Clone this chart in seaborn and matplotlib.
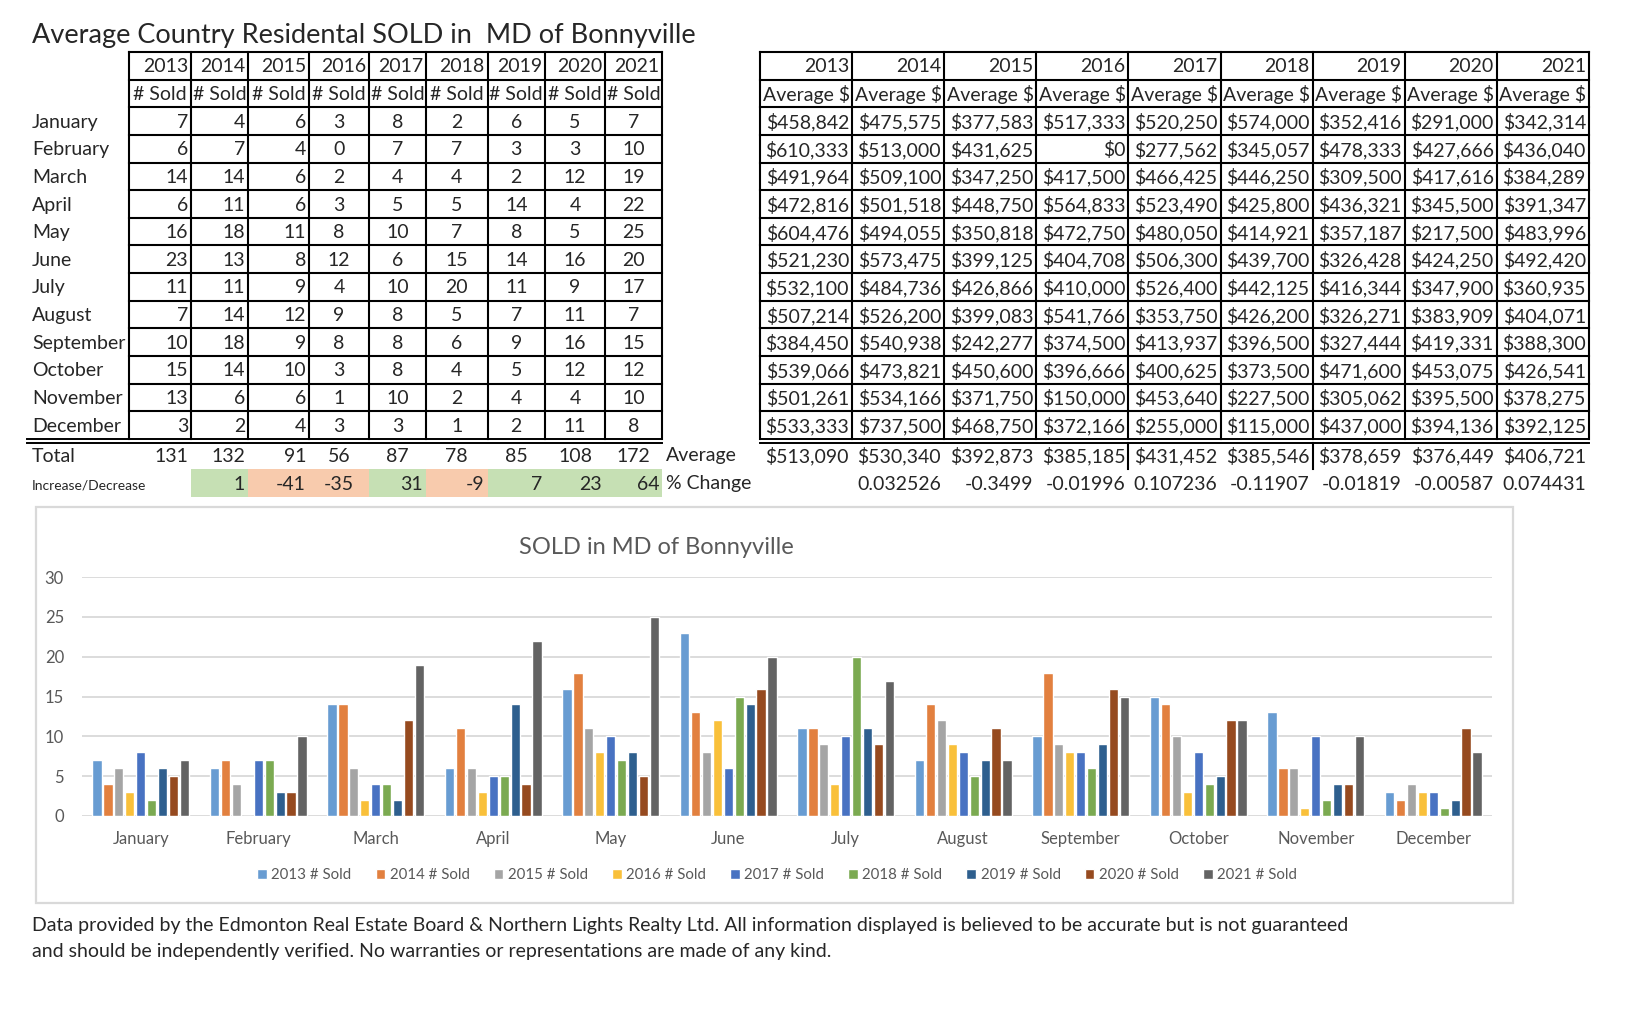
"""
Country residential sales sheet for the MD of Bonnyville:
two summary tables (units sold, average price) and a grouped bar chart.
"""

import matplotlib.pyplot as plt
import numpy as np
import pandas as pd
import seaborn as sns
from matplotlib.patches import Rectangle


months = ["January", "February", "March", "April", "May", "June", "July",
          "August", "September", "October", "November", "December"]
years = [2013, 2014, 2015, 2016, 2017, 2018, 2019, 2020, 2021]

sold_2013 = [7, 6, 14, 6, 16, 23, 11, 7, 10, 15, 13, 3]
sold_2014 = [4, 7, 14, 11, 18, 13, 11, 14, 18, 14, 6, 2]
sold_2015 = [6, 4, 6, 6, 11, 8, 9, 12, 9, 10, 6, 4]
sold_2016 = [3, 0, 2, 3, 8, 12, 4, 9, 8, 3, 1, 3]
sold_2017 = [8, 7, 4, 5, 10, 6, 10, 8, 8, 8, 10, 3]
sold_2018 = [2, 7, 4, 5, 7, 15, 20, 5, 6, 4, 2, 1]
sold_2019 = [6, 3, 2, 14, 8, 14, 11, 7, 9, 5, 4, 2]
sold_2020 = [5, 3, 12, 4, 5, 16, 9, 11, 16, 12, 4, 11]
sold_2021 = [7, 10, 19, 22, 25, 20, 17, 7, 15, 12, 10, 8]

avg_2013 = [458842, 610333, 491964, 472816, 604476, 521230, 532100, 507214, 384450, 539066, 501261, 533333]
avg_2014 = [475575, 513000, 509100, 501518, 494055, 573475, 484736, 526200, 540938, 473821, 534166, 737500]
avg_2015 = [377583, 431625, 347250, 448750, 350818, 399125, 426866, 399083, 242277, 450600, 371750, 468750]
avg_2016 = [517333, 0, 417500, 564833, 472750, 404708, 410000, 541766, 374500, 396666, 150000, 372166]
avg_2017 = [520250, 277562, 466425, 523490, 480050, 506300, 526400, 353750, 413937, 400625, 453640, 255000]
avg_2018 = [574000, 345057, 446250, 425800, 414921, 439700, 442125, 426200, 396500, 373500, 227500, 115000]
avg_2019 = [352416, 478333, 309500, 436321, 357187, 326428, 416344, 326271, 327444, 471600, 305062, 437000]
avg_2020 = [291000, 427666, 417616, 345500, 217500, 424250, 347900, 383909, 419331, 453075, 395500, 394136]
avg_2021 = [342314, 436040, 384289, 391347, 483996, 492420, 360935, 404071, 388300, 426541, 378275, 392125]

avg_total = [513090, 530340, 392873, 385185, 431452, 385546, 378659, 376449, 406721]
pct_change = [0.032526, -0.3499, -0.01996, 0.107236, -0.11907, -0.01819, -0.00587, 0.074431]

series_colors = ["#689CD2", "#E2803F", "#A5A5A5", "#F9C03A", "#4872C2",
                 "#7BAA51", "#2E5F8E", "#964A1F", "#636363"]

title = "Average Country Residental SOLD in  MD of Bonnyville"
chart_title = "SOLD in MD of Bonnyville"
footer = [
    "Data provided by the Edmonton Real Estate Board & Northern Lights Realty Ltd. "
    "All information displayed is believed to be accurate but is not guaranteed",
    "and should be independently verified. No warranties or representations are made of any kind.",
]

sold_cols = [sold_2013, sold_2014, sold_2015, sold_2016, sold_2017,
             sold_2018, sold_2019, sold_2020, sold_2021]
avg_cols = [avg_2013, avg_2014, avg_2015, avg_2016, avg_2017,
            avg_2018, avg_2019, avg_2020, avg_2021]
totals = [int(np.sum(c)) for c in sold_cols]
changes = np.diff(totals)

sns.set_style("white")
plt.rcParams["font.family"] = ["Lato", "DejaVu Sans"]

W, H = 1626, 1034
fig = plt.figure(figsize=(W / 100, H / 100), dpi=100)
canvas = fig.add_axes([0, 0, 1, 1])
canvas.set_xlim(0, W)
canvas.set_ylim(H, 0)
canvas.axis("off")

FS = 14
TOP = 52
ROW = 27.64
BOTTOM = TOP + 14 * ROW
left_x = [129, 191, 248, 309, 369, 426, 487.5, 545, 605, 662]
right_x = [760 + k * 92.1 for k in range(10)]


def line(xs, ys, lw=1.5):
    canvas.plot(xs, ys, color="black", lw=lw, solid_capstyle="projecting")


def put(x, y, s, ha="right", size=FS, **kw):
    canvas.text(x, y + 1, s, ha=ha, va="center", fontsize=size, **kw)


def row_mid(i):
    return TOP + (i + 0.5) * ROW


def draw_grid(xs):
    for i in range(14):
        line([xs[0], xs[-1]], [TOP + i * ROW] * 2)
    for x in xs:
        line([x, x], [TOP, BOTTOM])


canvas.text(32, 36, title, ha="left", va="center", fontsize=19.5)

# left table: units sold
draw_grid(left_x)
line([27, left_x[-1]], [BOTTOM, BOTTOM], lw=1.4)
line([27, left_x[-1]], [BOTTOM + 3.6, BOTTOM + 3.6], lw=1.4)
for j, yr in enumerate(years):
    x0, x1 = left_x[j], left_x[j + 1]
    put(x1 - 3, row_mid(0), str(yr))
    put((x0 + x1) / 2, row_mid(1), "# Sold", ha="center")
    for i, v in enumerate(sold_cols[j]):
        if j < 3:
            put(x1 - 3, row_mid(i + 2), str(v))
        else:
            put((x0 + x1) / 2, row_mid(i + 2), str(v), ha="center")
for i, m in enumerate(months):
    put(32, row_mid(i + 2), m, ha="left")

total_y = 455
change_y = 483
put(32, total_y, "Total", ha="left")
for j, t in enumerate(totals):
    x0, x1 = left_x[j], left_x[j + 1]
    if j < 3:
        put(x1 - 3, total_y, str(t))
    else:
        put((x0 + x1) / 2, total_y, str(t), ha="center")

put(32, change_y + 1, "Increase/Decrease", ha="left", size=10)
for j, c in enumerate(changes):
    x0, x1 = left_x[j + 1], left_x[j + 2]
    canvas.add_patch(Rectangle((x0, 469), x1 - x0, 28, lw=0,
                               facecolor="#C6E0B4" if c > 0 else "#F8CBAD"))
    if years[j + 1] == 2016:
        put((x0 + x1) / 2, change_y, str(c), ha="center")
    else:
        put(x1 - 3, change_y, str(c))

put(666, total_y, "Average", ha="left")
put(666, change_y, "% Change", ha="left")

# right table: average price
draw_grid(right_x)
line([right_x[0], right_x[-1]], [BOTTOM, BOTTOM], lw=1.4)
line([right_x[0], right_x[-1]], [BOTTOM + 3.6, BOTTOM + 3.6], lw=1.4)
for k in (4, 6):
    line([right_x[k], right_x[k]], [BOTTOM + 3.6, 469])
for j, yr in enumerate(years):
    x0, x1 = right_x[j], right_x[j + 1]
    put(x1 - 3, row_mid(0), str(yr))
    put((x0 + x1) / 2, row_mid(1), "Average $", ha="center")
    for i, v in enumerate(avg_cols[j]):
        put(x1 - 3, row_mid(i + 2), f"${v:,}")
    put(x1 - 3, total_y, f"${avg_total[j]:,}")
for j, p in enumerate(pct_change):
    put(right_x[j + 2] - 3, change_y, f"{p:.6g}")

# bar chart
canvas.add_patch(Rectangle((36, 507), 1513 - 36, 903 - 507, fill=False,
                           edgecolor="#D9D9D9", lw=1.6))
canvas.text(656, 548, chart_title, ha="center", va="center",
            fontsize=17, color="#595959")

labels = [f"{yr} # Sold" for yr in years]
df = pd.DataFrame({
    "month": months * len(years),
    "sold": np.concatenate(sold_cols),
    "series": np.repeat(labels, len(months)),
})

ax = fig.add_axes([82 / W, 1 - 816 / H, (1492 - 82) / W, (816 - 577) / H])
ax.set_facecolor("none")
sns.barplot(data=df, x="month", y="sold", hue="series", palette=series_colors,
            saturation=1, width=0.84, gap=0.15, errorbar=None, ax=ax)
ax.set_ylim(0, 30)
ax.set_yticks(range(0, 31, 5))
ax.set_xlim(-0.5, len(months) - 0.5)
ax.grid(axis="y", color="#D9D9D9", lw=1.3)
ax.set_axisbelow(True)
sns.despine(ax=ax, left=True, bottom=True)
ax.set_xlabel("")
ax.set_ylabel("")
ax.tick_params(axis="y", length=0, colors="#595959", labelsize=12, pad=13)
ax.tick_params(axis="x", length=0, colors="#595959", labelsize=12, pad=11)

handles, names = ax.get_legend_handles_labels()
ax.legend_.remove()
fig.legend(handles, names, loc="center", bbox_to_anchor=(777 / W, 1 - 875 / H),
           ncol=len(years), frameon=False, fontsize=10.8, labelcolor="#595959",
           handlelength=0.65, handleheight=0.65, handletextpad=0.3,
           columnspacing=1.6)

for i, text in enumerate(footer):
    canvas.text(32, 925 + i * 27, text, ha="left", va="center", fontsize=FS)

fig.savefig("out.png", dpi=100)
plt.close(fig)
